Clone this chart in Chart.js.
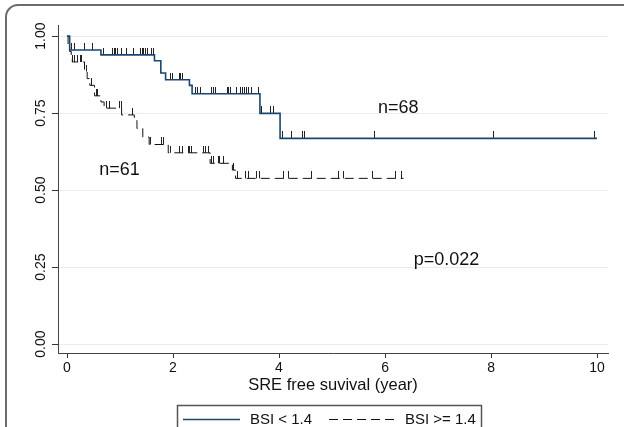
<!DOCTYPE html>
<html>
<head>
<meta charset="utf-8">
<script src="https://cdn.jsdelivr.net/npm/chart.js@4"></script>
<style>
  html, body { margin: 0; padding: 0; background: #fff; overflow: hidden; }
  #wrap { width: 624px; height: 427px; }
</style>
</head>
<body>
<div id="wrap"><canvas id="km" width="624" height="427"></canvas></div>
<script>
// ===== Data =====
const xTicks = [0, 2, 4, 6, 8, 10];
const yTicks = [0, 0.25, 0.5, 0.75, 1];
const seriesLabels = ['BSI < 1.4', 'BSI >= 1.4'];

// BSI < 1.4 : step points (time in years, survival)
const lowTime = [0, 0.05, 0.64, 1.65, 1.77, 1.86, 2.31, 2.36, 3.64, 4.02, 10.0];
const lowSurv = [1, 0.955, 0.939, 0.92, 0.88, 0.858, 0.84, 0.813, 0.749, 0.668, 0.668];
// censored times
const lowCens = [0.09, 0.14, 0.33, 0.49, 0.685, 0.86, 0.89, 0.92, 0.96, 1.03, 1.12, 1.26,
  1.38, 1.42, 1.45, 1.48, 1.51, 1.60, 1.64, 1.96, 1.99, 2.12, 2.15, 2.18, 2.43, 2.46, 2.52,
  2.72, 2.76, 2.81, 3.02, 3.05, 3.08, 3.19, 3.28, 3.31, 3.34, 3.38, 3.42, 3.48, 3.62, 3.67,
  3.83, 3.89, 4.07, 4.24, 4.45, 4.48, 5.81, 8.04, 9.96];

// BSI >= 1.4
const highTime = [0, 0.02, 0.05, 0.08, 0.1, 0.33, 0.38, 0.43, 0.52, 0.64, 0.7, 1.03, 1.27,
  1.32, 1.43, 1.55, 1.91, 2.70, 3.12, 3.18, 6.35];
const highSurv = [1, 0.967, 0.95, 0.934, 0.916, 0.885, 0.862, 0.84, 0.806, 0.786, 0.766, 0.744,
  0.726, 0.70, 0.672, 0.648, 0.621, 0.587, 0.565, 0.538, 0.538];
const highCens = [0.11, 0.15, 0.2, 0.25, 0.28, 0.36, 0.46, 0.55, 0.58, 0.75, 0.8, 0.99, 1.02,
  1.23, 1.58, 1.78, 1.82, 1.95, 2.12, 2.17, 2.29, 2.32, 2.35, 2.57, 2.62, 2.67, 2.73, 2.77,
  2.85, 2.88, 2.95, 3.14, 3.22, 3.36, 3.43, 3.57, 3.64, 4.08, 4.18, 4.62, 5.12, 5.21, 5.77,
  6.19, 6.32];

// text on the plot (x, y in data units)
const notes = [
  { text: 'n=68', x: 6.25, y: 0.768 },
  { text: 'n=61', x: 0.99, y: 0.565 },
  { text: 'p=0.022', x: 7.16, y: 0.274 }
];

// ===== Helpers =====
const BLUE = '#1a476f';
const FONT = '"Liberation Sans", Arial, sans-serif';
const DASH = [9, 5];

// survival value of a step curve at time t
function survAt(times, surv, t) {
  let s = surv[0];
  for (let i = 0; i < times.length; i++) if (times[i] <= t) s = surv[i];
  return s;
}

const toPoints = (xs, ys) => xs.map((x, i) => ({ x, y: ys[i] }));
const toCens = (cens, times, surv) => cens.map(t => ({ x: t, y: survAt(times, surv, t) }));

// small upward tick used as censor mark
function censorMark(color) {
  const c = document.createElement('canvas');
  c.width = 1; c.height = 14;
  const g = c.getContext('2d');
  g.fillStyle = color;
  g.fillRect(0, 0, 1, 7);
  return c;
}

// ===== Plugin: frame, y labels, notes, legend =====
const extras = {
  id: 'extras',
  beforeDraw(chart) {
    const ctx = chart.ctx;
    ctx.save();
    ctx.strokeStyle = '#6b6b6b';
    ctx.lineWidth = 2;
    ctx.beginPath();
    ctx.moveTo(6, 460);
    ctx.lineTo(6, 17);
    ctx.arcTo(6, 5, 18, 5, 12);
    ctx.lineTo(640, 5);
    ctx.stroke();
    ctx.restore();
  },
  afterDraw(chart) {
    const ctx = chart.ctx;
    const xs = chart.scales.x, ys = chart.scales.y;
    ctx.save();
    ctx.fillStyle = '#111';

    // rotated y tick labels
    ctx.font = '14px ' + FONT;
    ctx.textAlign = 'center';
    ctx.textBaseline = 'middle';
    yTicks.forEach(v => {
      ctx.save();
      ctx.translate(41, ys.getPixelForValue(v));
      ctx.rotate(-Math.PI / 2);
      ctx.fillText(v.toFixed(2), 0, 0);
      ctx.restore();
    });

    // notes
    ctx.font = '18px ' + FONT;
    notes.forEach(n => ctx.fillText(n.text, xs.getPixelForValue(n.x), ys.getPixelForValue(n.y)));

    // legend box
    const ds = chart.data.datasets;
    ctx.strokeStyle = '#555';
    ctx.lineWidth = 1.5;
    ctx.strokeRect(177.5, 405.5, 304, 40);
    ctx.font = '15px ' + FONT;
    ctx.textAlign = 'left';
    const items = [{ x0: 183, x1: 240, tx: 250 }, { x0: 329, x1: 394, tx: 405 }];
    items.forEach((it, i) => {
      const d = ds[i];
      ctx.beginPath();
      ctx.strokeStyle = d.borderColor;
      ctx.lineWidth = d.borderWidth;
      ctx.setLineDash(d.borderDash || []);
      ctx.moveTo(it.x0, 419.5);
      ctx.lineTo(it.x1, 419.5);
      ctx.stroke();
      ctx.setLineDash([]);
      ctx.fillText(d.label, it.tx, 420);
    });
    ctx.restore();
  }
};

// ===== Chart =====
new Chart(document.getElementById('km'), {
  type: 'line',
  data: {
    datasets: [
      {
        label: seriesLabels[0],
        data: toPoints(lowTime, lowSurv),
        borderColor: BLUE, borderWidth: 1.6, stepped: true,
        pointRadius: 0, fill: false
      },
      {
        label: seriesLabels[1],
        data: toPoints(highTime, highSurv),
        borderColor: '#111', borderWidth: 1, borderDash: DASH, stepped: true,
        pointRadius: 0, fill: false
      },
      {
        label: 'cens-low',
        data: toCens(lowCens, lowTime, lowSurv),
        showLine: false, pointStyle: censorMark('#222'), pointRadius: 4
      },
      {
        label: 'cens-high',
        data: toCens(highCens, highTime, highSurv),
        showLine: false, pointStyle: censorMark('#222'), pointRadius: 4
      }
    ]
  },
  options: {
    responsive: false,
    animation: false,
    layout: { padding: { top: 25, right: 16, left: 0, bottom: 0 } },
    plugins: { legend: { display: false }, tooltip: { enabled: false } },
    scales: {
      x: {
        type: 'linear',
        min: -0.17, max: 10.207,
        afterBuildTicks: s => { s.ticks = xTicks.map(v => ({ value: v })); },
        afterFit: s => { s.height = 74; },
        grid: { drawOnChartArea: false, drawTicks: true, tickLength: 5, tickColor: '#333' },
        border: { color: '#444', width: 1 },
        ticks: { color: '#111', font: { family: FONT, size: 14 }, padding: 2, maxRotation: 0 },
        title: {
          display: true, text: 'SRE free suvival (year)', color: '#111',
          font: { family: FONT, size: 16.5 }, padding: { top: 0, bottom: 32 }
        }
      },
      y: {
        type: 'linear',
        min: -0.029, max: 1.036,
        afterBuildTicks: s => { s.ticks = yTicks.map(v => ({ value: v })); },
        afterFit: s => { s.width = 58; },
        grid: { color: '#e6eff0', lineWidth: 1, drawTicks: true, tickLength: 6, tickColor: '#333' },
        border: { color: '#444', width: 1 },
        ticks: { display: false }
      }
    }
  },
  plugins: [extras]
});
</script>
</body>
</html>
